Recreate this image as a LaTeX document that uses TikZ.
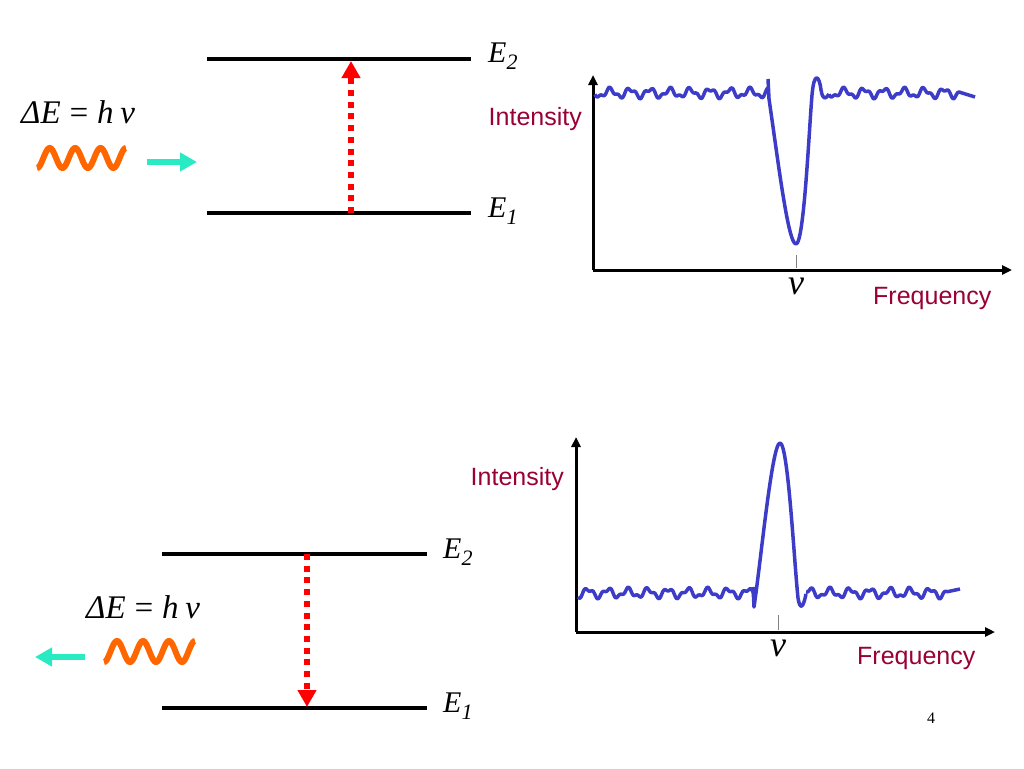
\documentclass[tikz,border=0pt]{standalone}
\usepackage{fontspec}
\setmainfont{Liberation Serif}
\newfontfamily\arialfont{Liberation Sans}
\usetikzlibrary{arrows.meta}
\definecolor{wine}{RGB}{153,0,51}
\definecolor{specblue}{RGB}{60,60,200}
\definecolor{waveorange}{RGB}{255,102,0}
\definecolor{aqua}{RGB}{40,235,195}
\newcommand{\lvl}[1]{E\raisebox{-7pt}{\fontsize{22}{24}\selectfont #1}}
\newcommand{\planck}{ΔE\hspace{7pt}=\hspace{7pt}h\hspace{7pt}ν}

\begin{document}
\begin{tikzpicture}[x=1pt,y=-1pt]
    \tikzstyle{every node}+=[inner sep=0pt]
    \tikzstyle{level}=[black,line width=4pt]
    \tikzstyle{jump}=[red,line width=6pt,dash pattern=on 6pt off 5.7pt,-{Triangle[length=17pt,width=18pt]}]
    \tikzstyle{photon}=[waveorange,line width=6pt]
    \tikzstyle{travel}=[aqua,line width=6pt,-{Triangle[length=17pt,width=18pt]}]
    \tikzstyle{axis}=[black,line width=3pt,-{Triangle[length=10pt,width=9pt]}]
    \tikzstyle{spectrum}=[specblue,line width=3.5pt,line join=round]
    \tikzstyle{energy}=[font=\fontsize{30}{34}\selectfont\itshape,anchor=base west]
    \tikzstyle{quantum}=[font=\fontsize{33}{36}\selectfont\itshape,anchor=base west]
    \tikzstyle{axislabel}=[wine,font=\fontsize{25}{28}\selectfont\arialfont]
    \useasboundingbox (0,0) rectangle (1024,768);

    % absorption: levels
    \coordinate (a2l) at (207,59);
    \coordinate (a2r) at (471,59);
    \coordinate (a1l) at (207,213);
    \coordinate (a1r) at (471,213);
    \draw [level] (a2l) -- (a2r);
    \draw [level] (a1l) -- (a1r);
    \node [energy] (a2) at (488,63) {\lvl{2}};
    \node [energy] (a1) at (488,217) {\lvl{1}};
    \coordinate (up1) at (351,213);
    \coordinate (up2) at (351,61);
    \draw [jump] (up1) -- (up2);
    \node [quantum] (ahv) at (21,123) {\planck};
    \draw [photon] plot[domain=0:1260,samples=100,smooth] ({37+\x/1260*89},{158+10*cos(\x)});
    \coordinate (ain1) at (147,162);
    \coordinate (ain2) at (197,162);
    \draw [travel] (ain1) -- (ain2);

    % absorption spectrum
    \coordinate (o1) at (593,270);
    \coordinate (y1) at (593,75);
    \coordinate (x1) at (1012,270);
    \draw [axis] (o1) -- (y1);
    \draw [axis] (o1) -- (x1);
    \node [axislabel,anchor=base east] (int1) at (582,125) {Intensity};
    \node [axislabel,anchor=base west] (fr1) at (873,304) {Frequency};
    \draw [gray,line width=0.8pt] (796,255) -- (796,268);
    \node [quantum,anchor=base,font=\fontsize{36}{40}\selectfont\itshape] (nu1) at (796,294) {ν};
    \draw [spectrum] plot[domain=0:173,samples=140,smooth] ({595+\x},{93+4*sin(18*\x)+2*sin(41*\x+40)});
    \draw [spectrum] (768,79) -- (769,99) .. controls (778,160) and (788,244) .. (796,244) .. controls (804,244) and (809,130) .. (812,95) .. controls (814,72) and (819,74) .. (821,90) .. controls (823,101) and (826,99) .. (829,94);
    \draw [spectrum] plot[domain=0:130,samples=110,smooth] ({829+\x},{93+4*sin(18*\x)+2*sin(41*\x+40)}) -- (975,97);

    % emission: levels
    \coordinate (b2l) at (162,554);
    \coordinate (b2r) at (427,554);
    \coordinate (b1l) at (162,708);
    \coordinate (b1r) at (427,708);
    \draw [level] (b2l) -- (b2r);
    \draw [level] (b1l) -- (b1r);
    \node [energy] (b2) at (443,558) {\lvl{2}};
    \node [energy] (b1) at (443,712) {\lvl{1}};
    \coordinate (dn1) at (307,554);
    \coordinate (dn2) at (307,707);
    \draw [jump] (dn1) -- (dn2);
    \node [quantum] (bhv) at (86,618) {\planck};
    \draw [photon] plot[domain=0:1260,samples=100,smooth] ({104+\x/1260*91},{651.5+10.5*cos(\x)});
    \coordinate (bout1) at (85,657);
    \coordinate (bout2) at (35,657);
    \draw [travel] (bout1) -- (bout2);

    % emission spectrum
    \coordinate (o2) at (576,632);
    \coordinate (y2) at (576,437);
    \coordinate (x2) at (995,632);
    \draw [axis] (o2) -- (y2);
    \draw [axis] (o2) -- (x2);
    \node [axislabel,anchor=base east] (int2) at (564,485) {Intensity};
    \node [axislabel,anchor=base west] (fr2) at (857,664) {Frequency};
    \draw [gray,line width=0.8pt] (778,615) -- (778,630);
    \node [quantum,anchor=base,font=\fontsize{36}{40}\selectfont\itshape] (nu2) at (778,656) {ν};
    \draw [spectrum] plot[domain=0:176,samples=140,smooth] ({578+\x},{593+4*sin(18*\x+90)+2*sin(41*\x)});
    \draw [spectrum] (753,587) -- (754,607) .. controls (761,560) and (772,443) .. (780,443) .. controls (788,443) and (794,560) .. (798,598) .. controls (800,610) and (803,609) .. (806,594);
    \draw [spectrum] plot[domain=0:142,samples=120,smooth] ({806+\x},{593+4*sin(18*\x+200)+2*sin(41*\x+10)}) -- (960,589);

    \node [font=\fontsize{16}{18}\selectfont] (page) at (931,718) {4};
\end{tikzpicture}
\end{document}
